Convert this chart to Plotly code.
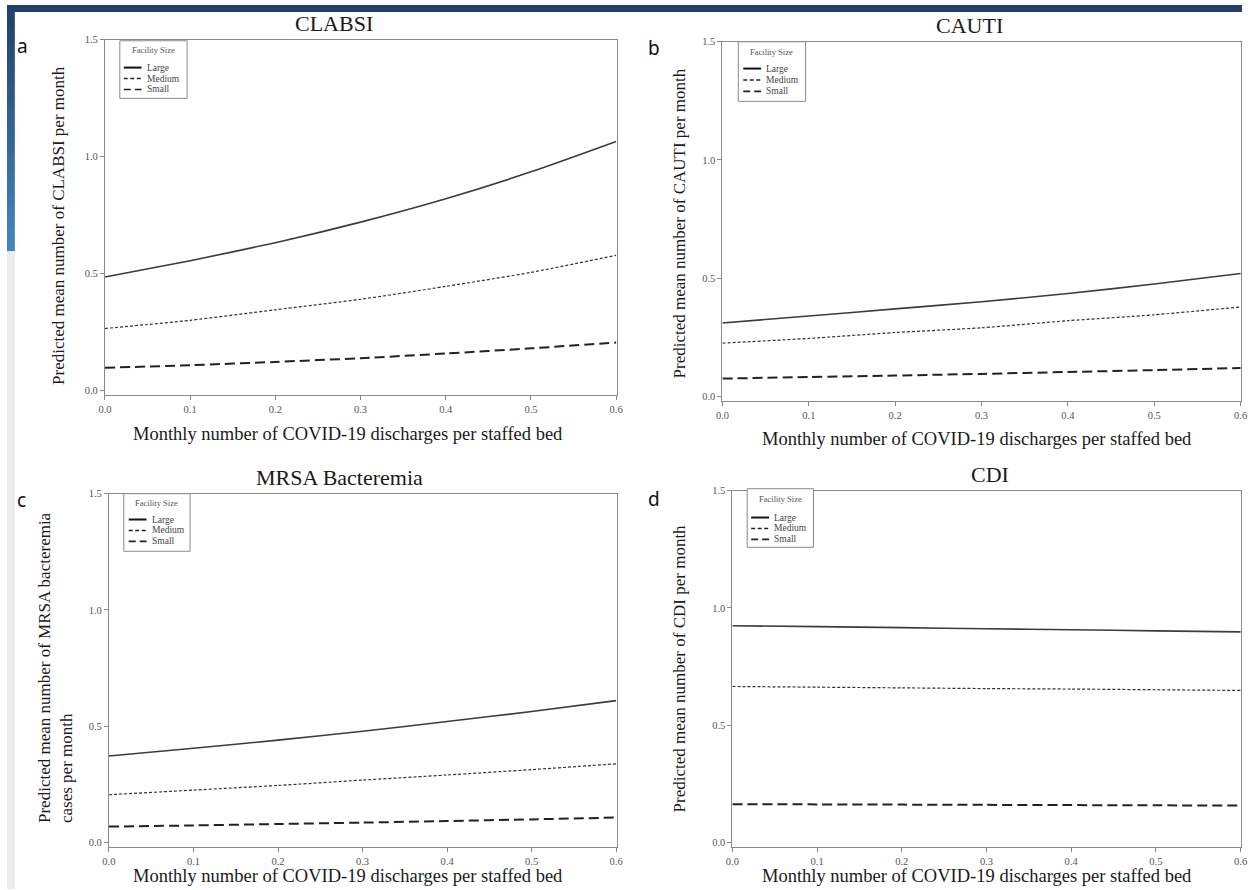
import base64
import plotly.graph_objects as go

# ---------------- data ----------------
x_vals = [0.0, 0.1, 0.2, 0.3, 0.4, 0.5, 0.6]
sizes = ["Large", "Medium", "Small"]

clabsi_large = [0.485, 0.555, 0.632, 0.720, 0.820, 0.935, 1.065]
clabsi_medium = [0.265, 0.300, 0.345, 0.390, 0.445, 0.505, 0.578]
clabsi_small = [0.097, 0.108, 0.122, 0.138, 0.158, 0.180, 0.205]

cauti_large = [0.310, 0.340, 0.370, 0.400, 0.435, 0.475, 0.520]
cauti_medium = [0.225, 0.245, 0.270, 0.290, 0.320, 0.345, 0.378]
cauti_small = [0.075, 0.082, 0.088, 0.095, 0.103, 0.111, 0.120]

mrsa_large = [0.372, 0.405, 0.440, 0.478, 0.520, 0.563, 0.610]
mrsa_medium = [0.205, 0.225, 0.245, 0.268, 0.290, 0.313, 0.338]
mrsa_small = [0.068, 0.073, 0.079, 0.085, 0.092, 0.099, 0.107]

cdi_large = [0.924, 0.920, 0.916, 0.911, 0.907, 0.902, 0.898]
cdi_medium = [0.665, 0.662, 0.659, 0.656, 0.654, 0.651, 0.648]
cdi_small = [0.163, 0.162, 0.161, 0.160, 0.159, 0.158, 0.157]

x_ticks = [0.0, 0.1, 0.2, 0.3, 0.4, 0.5, 0.6]
x_ticktext = ["0.0", "0.1", "0.2", "0.3", "0.4", "0.5", "0.6"]
y_ticks = [0.0, 0.5, 1.0, 1.5]
y_ticktext = ["0.0", "0.5", "1.0", "1.5"]

panel_titles = ["CLABSI", "CAUTI", "MRSA Bacteremia", "CDI"]
panel_letters = ["a", "b", "c", "d"]
x_title = "Monthly number of COVID-19 discharges per staffed bed"
y_titles = [
    "Predicted mean number of CLABSI per month",
    "Predicted mean number of CAUTI per month",
    "Predicted mean number of MRSA bacteremia<br>cases per month",
    "Predicted mean number of CDI per month",
]
legend_title = "Facility Size"

# ---------------- layout geometry ----------------
W, H = 1248, 890
SERIF = "Liberation Serif"


def px_x(p):
    return p / W


def px_y(p):
    return 1 - p / H


# (left, right, top, bottom) in pixels of each plot area
boxes = [
    (99, 616, 35, 393),
    (723, 1247, 37, 399),
    (103, 616, 492, 848),
    (733, 1247, 489, 848),
]

panels = [
    (clabsi_large, clabsi_medium, clabsi_small),
    (cauti_large, cauti_medium, cauti_small),
    (mrsa_large, mrsa_medium, mrsa_small),
    (cdi_large, cdi_medium, cdi_small),
]

styles = {
    "Large": dict(color="#3c3c3c", width=1.6, dash="solid"),
    "Medium": dict(color="#333333", width=1.2, dash="3px,2px"),
    "Small": dict(color="#222222", width=2.0, dash="10px,5px"),
}
legend_styles = {
    "Large": dict(color="#111111", width=2.0, dash="solid"),
    "Medium": dict(color="#222222", width=1.6, dash="4px,2.5px"),
    "Small": dict(color="#222222", width=1.6, dash="7px,4px"),
}

fig = go.Figure()

for i, series in enumerate(panels):
    ax = "" if i == 0 else str(i + 1)
    for name, ys in zip(sizes, series):
        fig.add_trace(go.Scatter(
            x=x_vals, y=ys, mode="lines", name=name,
            line=dict(shape="spline", smoothing=0.6, **styles[name]),
            xaxis="x" + ax, yaxis="y" + ax,
            showlegend=False, hoverinfo="skip",
        ))

layout = dict(
    width=W, height=H,
    margin=dict(l=0, r=0, t=0, b=0),
    paper_bgcolor="white", plot_bgcolor="white",
    font=dict(family=SERIF, color="#222222"),
)

for i, (l, r, t, b) in enumerate(boxes):
    ax = "" if i == 0 else str(i + 1)
    xa = dict(
        domain=[px_x(l), px_x(r)],
        anchor="y" + ax,
        range=[0, 0.6005],
        tickvals=x_ticks, ticktext=x_ticktext,
        ticks="outside", ticklen=4, tickcolor="#888888", tickwidth=1,
        tickfont=dict(family=SERIF, size=10.5, color="#555555"),
        showline=True, linecolor="#8a8a8a", linewidth=1, mirror=True,
        showgrid=False, zeroline=False,
    )
    ya = dict(
        domain=[px_y(b), px_y(t)],
        anchor="x" + ax,
        range=[-0.021, 1.5],
        tickvals=y_ticks, ticktext=y_ticktext,
        ticks="outside", ticklen=4, tickcolor="#888888", tickwidth=1,
        tickfont=dict(family=SERIF, size=10.5, color="#555555"),
        showline=True, linecolor="#8a8a8a", linewidth=1, mirror=True,
        showgrid=False, zeroline=False,
    )
    layout["xaxis" + ax] = xa
    layout["yaxis" + ax] = ya

fig.update_layout(**layout)

annotations = []
shapes = []


def add_text(txt, cx, cy, size, family=SERIF, color="#1a1a1a", angle=0,
             xanchor="center", align="center"):
    annotations.append(dict(text=txt, x=px_x(cx), y=px_y(cy), xref="paper", yref="paper",
                            showarrow=False, xanchor=xanchor, yanchor="middle",
                            textangle=angle, align=align,
                            font=dict(family=family, size=size, color=color)))


# panel titles
title_pos = [(330, 19), (973, 21), (336, 476), (993, 473)]
for txt, (cx, cy) in zip(panel_titles, title_pos):
    add_text(txt, cx, cy, 22)

# panel letters
letter_pos = [(16, 41), (654, 43), (15, 498), (654, 497)]
for txt, (cx, cy) in zip(panel_letters, letter_pos):
    add_text(txt, cx, cy, 19, family="Noto Sans", color="#111111")

# axis titles
x_title_pos = [(345, 432), (980, 437), (345, 877), (980, 877)]
for (cx, cy) in x_title_pos:
    add_text(x_title, cx, cy, 18.5)
y_title_pos = [(52, 222), (680, 220), (49, 667), (680, 668)]
for txt, (cx, cy) in zip(y_titles, y_title_pos):
    add_text(txt, cx, cy, 17, angle=-90, align="left")

# legends (box, title, three entries) in each panel
legend_geo = [
    # box left, right, top, bottom, title y, first entry y, entry step, line x0
    (114, 182, 36, 94, 45, 63, 11, 118),
    (739, 807, 37, 97, 47, 64, 11.5, 744),
    (118, 185, 492, 550, 501, 518, 11, 123),
    (748, 815, 487, 546, 497, 516, 11, 752),
]
for (bl, br, bt, bb, ty, ey, es, lx) in legend_geo:
    shapes.append(dict(type="rect", xref="paper", yref="paper",
                       x0=px_x(bl), x1=px_x(br), y0=px_y(bb), y1=px_y(bt),
                       fillcolor="white", line=dict(color="#8a8a8a", width=1)))
    add_text(legend_title, (bl + br) / 2, ty, 8.5, color="#555555")
    for k, name in enumerate(sizes):
        yy = ey + k * es
        shapes.append(dict(type="line", xref="paper", yref="paper",
                           x0=px_x(lx), x1=px_x(lx + 18), y0=px_y(yy), y1=px_y(yy),
                           line=legend_styles[name]))
        add_text(name, lx + 21, yy, 9.5, color="#444444", xanchor="left")

# slide background decorations (top band, light strip below the gradient)
shapes.append(dict(type="rect", xref="paper", yref="paper", x0=0, x1=1, y0=px_y(7), y1=1,
                   fillcolor="#22406c", line=dict(width=0), layer="below"))
shapes.append(dict(type="rect", xref="paper", yref="paper", x0=0, x1=px_x(8), y0=0,
                   y1=px_y(248), fillcolor="#ececec", line=dict(width=0), layer="below"))

svg = ('<svg xmlns="http://www.w3.org/2000/svg" width="8" height="241" '
       'viewBox="0 0 8 241" preserveAspectRatio="none">'
       '<defs><linearGradient id="g" x1="0" y1="0" x2="0" y2="1">'
       '<stop offset="0" stop-color="#22416e"/><stop offset="1" stop-color="#4387be"/>'
       '</linearGradient></defs><rect width="8" height="241" fill="url(#g)"/></svg>')
src = "data:image/svg+xml;base64," + base64.b64encode(svg.encode()).decode()

fig.update_layout(
    annotations=annotations, shapes=shapes,
    images=[dict(source=src, xref="paper", yref="paper", x=0, y=px_y(7),
                 sizex=px_x(8), sizey=241 / H, sizing="stretch",
                 xanchor="left", yanchor="top", layer="below")],
)
fig.write_html("out.html")
